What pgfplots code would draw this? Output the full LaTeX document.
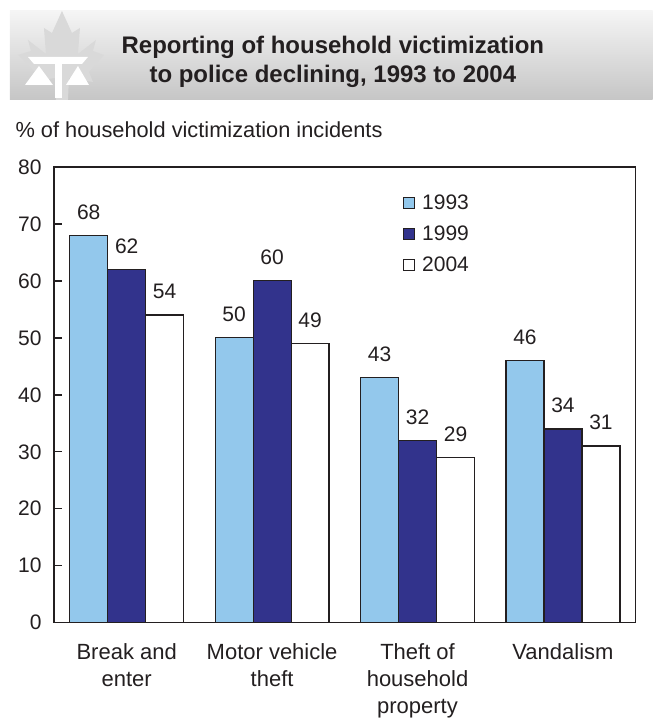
\documentclass[border=0pt]{standalone}
\usepackage{pgfplots}
\pgfplotsset{compat=1.18}
\usepackage{fontspec}
\setmainfont{Liberation Sans}
\definecolor{c93}{HTML}{93C8EC}
\definecolor{c99}{HTML}{32338C}
\definecolor{ink}{HTML}{231F20}
\newcommand{\fs}{\fontsize{21}{27}\selectfont}
\newcommand{\fl}{\fontsize{22}{27}\selectfont}
\begin{document}
\begin{tikzpicture}
\path (0pt,0pt) rectangle (653pt,-721pt);
% banner
\shade[top color=gray!8, bottom color=gray!45] (10pt,-11pt) rectangle (653pt,-100pt);
% maple leaf with scales
\fill[gray!30] (62pt,-11pt) -- (52pt,-33pt) -- (44pt,-28pt) -- (46pt,-54pt) -- (28pt,-40pt)
  -- (31pt,-51pt) -- (18pt,-55pt) -- (35pt,-72pt) -- (31pt,-82pt) -- (55pt,-78pt)
  -- (56pt,-100pt) -- (68pt,-100pt) -- (69pt,-78pt) -- (93pt,-82pt) -- (89pt,-72pt)
  -- (104pt,-55pt) -- (93pt,-51pt) -- (96pt,-40pt) -- (78pt,-54pt) -- (80pt,-28pt)
  -- (72pt,-33pt) -- cycle;
\fill[white] (28pt,-57pt) -- (88pt,-57pt) -- (82pt,-64pt) -- (34pt,-64pt) -- cycle;
\fill[white] (55pt,-64pt) rectangle (62pt,-98pt);
\fill[white] (39pt,-66pt) -- (53pt,-85pt) -- (25pt,-85pt) -- cycle;
\fill[white] (78pt,-66pt) -- (89pt,-85pt) -- (66pt,-85pt) -- cycle;
\node[font=\bfseries\fontsize{24}{29}\selectfont, align=center, text=ink] at (333pt,-62pt)
  {Reporting of household victimization\\to police declining, 1993 to 2004};
\node[anchor=west, font=\fontsize{21.8}{26}\selectfont, text=ink] at (12pt,-130pt)
  {\% of household victimization incidents};
\begin{axis}[
  width=582pt, height=456pt, scale only axis,
  at={(54pt,-623pt)}, anchor=south west,
  ybar=0pt, bar width=38pt,
  xmin=-0.5, xmax=3.5, ymin=0, ymax=80,
  xtick={0,1,2,3},
  xticklabels={{Break and\\enter},{Motor vehicle\\theft},{Theft of\\household\\property},{Vandalism}},
  xticklabel style={align=center, anchor=north, yshift=-17pt, font=\fl},
  yticklabel style={xshift=-9pt},
  major x tick style={draw=none},
  ytick={0,10,...,80}, ytick pos=left, tick align=inside, major tick length=8pt,
  axis line style={line width=1.4pt, ink},
  major tick style={line width=1.4pt, ink},
  /pgf/number format/assume math mode=true,
  tick label style={font=\fs, text=ink},
  nodes near coords,
  nodes near coords style={font=\fs, text=ink, yshift=12pt},
  every axis plot/.append style={draw=ink, line width=1.2pt},
  legend cell align=left,
  legend image code/.code={\draw[#1,line width=1pt] (0pt,-5.5pt) rectangle (11pt,5.5pt);
    \path[draw=none,fill=none] (0pt,0pt) -- (17pt,0pt);},
  legend style={at={(rel axis cs:0.594,0.948)}, anchor=north west, draw=none, fill=none,
    font=\fs, text=ink, row sep=11pt},
]
\addplot[fill=c93] coordinates {(0,68) (1,50) (2,43) (3,46)};
\addplot[fill=c99] coordinates {(0,62) (1,60) (2,32) (3,34)};
\addplot[fill=white] coordinates {(0,54) (1,49) (2,29) (3,31)};
\legend{1993,1999,2004}
\end{axis}
\end{tikzpicture}
\end{document}
